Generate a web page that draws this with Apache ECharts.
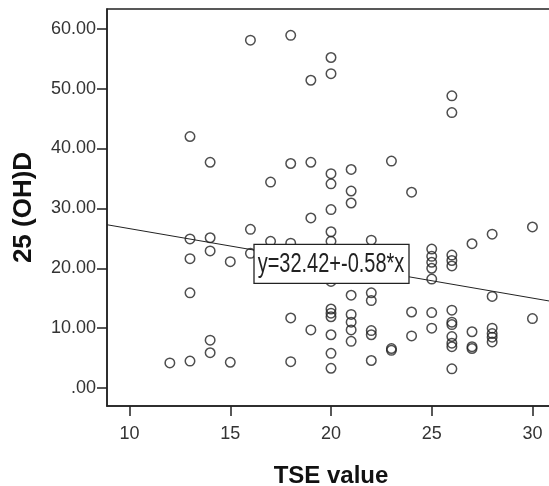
<!DOCTYPE html>
<html>
<head>
<meta charset="utf-8">
<script src="https://cdn.jsdelivr.net/npm/echarts@6/dist/echarts.min.js"></script>
<style>
html,body{margin:0;padding:0;background:#fff;}
#c{width:549px;height:486px;}
</style>
</head>
<body>
<div id="c"></div>
<script>
// TSE value (x) and 25(OH)D (y), read per TSE column
const tseValues = [
  12,
  13,13,13,13,13,
  14,14,14,14,14,
  15,15,
  16,16,16,
  17,17,
  18,18,18,18,18,
  19,19,19,19,
  20,20,20,20,20,20,20,20,20,20,20,20,20,20,
  21,21,21,21,21,21,21,21,
  22,22,22,22,22,22,
  23,23,23,
  24,24,24,
  25,25,25,25,25,25,25,
  26,26,26,26,26,26,26,26,26,26,26,26,
  27,27,27,27,
  28,28,28,28,28,28,
  30,30
];
const vitDValues = [
  4.2,
  42.0,24.9,21.6,15.9,4.5,
  37.7,25.1,22.9,8.0,5.9,
  21.1,4.3,
  58.1,26.5,22.5,
  34.4,24.5,
  58.9,37.5,24.2,11.7,4.4,
  51.4,37.7,28.4,9.7,
  55.2,52.5,35.8,34.1,29.8,26.1,24.5,17.8,13.2,12.5,11.9,8.9,5.8,3.3,
  36.5,32.9,30.9,15.5,12.3,11.0,9.7,7.8,
  24.7,15.9,14.6,9.6,8.9,4.6,
  37.9,6.6,6.3,
  32.7,12.7,8.7,
  23.2,22.0,21.0,20.0,18.2,12.6,10.0,
  48.8,46.0,22.2,21.3,20.4,13.0,11.0,10.6,8.6,7.5,6.9,3.2,
  24.1,9.4,6.9,6.6,
  25.7,15.3,10.0,9.1,8.5,7.7,
  26.9,11.6
];
const xTicks = [10, 15, 20, 25, 30];
const yTicks = [0, 10, 20, 30, 40, 50, 60];
const fitIntercept = 32.42;
const fitSlope = -0.58;
const fitLabel = 'y=32.42+-0.58*x';
const xTitle = 'TSE value';
const yTitle = '25 (OH)D';

const xMin = 8.88, xMax = 31.12, yMin = -3.0, yMax = 63.3;
const fitY = x => fitIntercept + fitSlope * x;
const labelX = 20;

const points = tseValues.map((x, i) => [x, vitDValues[i]]);
const font = "'Liberation Sans', Arial, sans-serif";

const chart = echarts.init(document.getElementById('c'), null, {renderer: 'canvas'});
chart.setOption({
  animation: false,
  backgroundColor: '#fff',
  grid: {left: 107, top: 9, bottom: 80, right: -6, containLabel: false, outerBoundsMode: 'none',
    show: true, borderColor: '#222', borderWidth: 1.5, backgroundColor: '#fff'},
  xAxis: {
    type: 'value', min: xMin, max: xMax,
    name: xTitle, nameLocation: 'middle', nameGap: 58,
    nameTextStyle: {fontFamily: font, fontWeight: 'bold', fontSize: 24, color: '#111'},
    axisLine: {show: true, onZero: false, lineStyle: {color: '#222', width: 1.5}},
    axisTick: {show: true, length: 10, customValues: xTicks, lineStyle: {color: '#222', width: 1.5}},
    axisLabel: {customValues: xTicks, margin: 19, fontFamily: font, fontSize: 18, color: '#333'},
    splitLine: {show: false}
  },
  yAxis: {
    type: 'value', min: yMin, max: yMax,
    name: yTitle, nameLocation: 'middle', nameGap: 70, nameRotate: 90,
    nameTextStyle: {fontFamily: font, fontWeight: 'bold', fontSize: 26, color: '#111'},
    axisLine: {show: true, onZero: false, lineStyle: {color: '#222', width: 1.5}},
    axisTick: {show: true, length: 10, customValues: yTicks, lineStyle: {color: '#222', width: 1.5}},
    axisLabel: {customValues: yTicks, margin: 11, fontFamily: font, fontSize: 18, color: '#333',
      formatter: v => (v === 0 ? '.00' : v.toFixed(2))},
    splitLine: {show: false}
  },
  series: [
    {
      type: 'line',
      data: [[xMin, fitY(xMin)], [xMax, fitY(xMax)]],
      showSymbol: false, symbol: 'none',
      lineStyle: {color: '#222', width: 1},
      silent: true, z: 1
    },
    {
      type: 'scatter',
      data: points,
      symbol: 'circle', symbolSize: 9.5,
      itemStyle: {color: 'rgba(255,255,255,0)', borderColor: '#222', borderWidth: 1.5},
      emphasis: {disabled: true},
      silent: true, z: 2
    }
  ]
});

// fit-line label box, anchored on the fit line at x = labelX via the chart's scales
const anchor = chart.convertToPixel({gridIndex: 0}, [labelX, fitY(labelX)]);
chart.setOption({
  graphic: [{
    type: 'group', x: anchor[0], y: anchor[1], z: 100, zlevel: 0,
    children: [
      {type: 'rect', z: 100, shape: {x: -77, y: -19, width: 155, height: 39},
        style: {fill: '#ffffff', stroke: '#222', lineWidth: 1.3}},
      {type: 'text', z: 101, x: 0, y: 1, scaleX: 0.74,
        style: {text: fitLabel, fontFamily: font, fontSize: 27, fill: '#222',
          align: 'center', verticalAlign: 'middle'}}
    ]
  }]
});
</script>
</body>
</html>
